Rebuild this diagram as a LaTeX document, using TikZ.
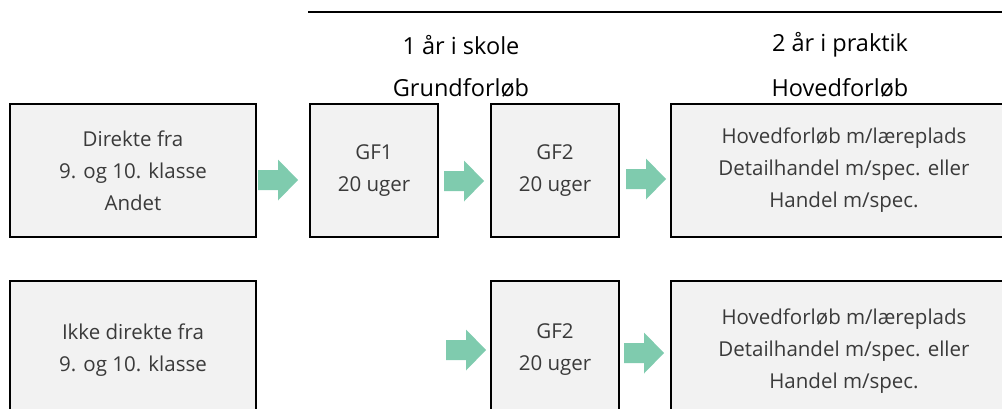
\documentclass[tikz,border=0pt]{standalone}
\usepackage{fontspec}
\setmainfont{Open Sans}
\usetikzlibrary{positioning}
\definecolor{pilgroen}{HTML}{7FCBAE}
\definecolor{boksgraa}{HTML}{F2F2F2}
\definecolor{tekstgraa}{HTML}{3A3A3A}
\tikzset{
  boks/.style={draw=black,line width=2pt,fill=boksgraa,anchor=north west,align=center,
    text=tekstgraa,font=\fontsize{20.5}{32}\selectfont,inner sep=0pt},
  overskrift/.style={font=\fontsize{23.5}{26}\selectfont,text=black,inner sep=0pt},
  pil/.pic={\fill[pilgroen] (0,-10) -- (20,-10) -- (20,-20.5) -- (40,0) -- (20,20.5) -- (20,10) -- (0,10) -- cycle;}
}

\begin{document}
\begin{tikzpicture}[x=1pt,y=-1pt]
    \useasboundingbox (0,0) rectangle (1002,408);
    \clip (0,0) rectangle (1002,408);

    \draw[line width=2pt] (308,12) -- (1002,12);

    \node[overskrift] (skole) at (461,45) {1 år i skole};
    \node[overskrift] (praktik) at (840,45) {2 år i praktik};
    \node[overskrift] (grund) at (461,88) {Grundforløb};
    \node[overskrift] (hoved) at (840,88) {Hovedforløb};

    % forste raekke
    \node[boks,minimum width=246pt,minimum height=133pt] (direkte) at (9,103) {Direkte fra\\9. og 10. klasse\\Andet};
    \node[boks,minimum width=128pt,minimum height=133pt] (gfen) at (309,103) {GF1\\20 uger};
    \node[boks,minimum width=128pt,minimum height=133pt] (gfto) at (490,103) {GF2\\20 uger};
    \node[boks,minimum width=346pt,minimum height=133pt] (hovedet) at (670,103) {Hovedforløb m/læreplads\\Detailhandel m/spec. eller\\Handel m/spec.};

    \pic at (258,180) {pil};
    \pic at (444,181) {pil};
    \pic at (626,179) {pil};

    % anden raekke
    \node[boks,minimum width=246pt,minimum height=138pt] (ikke) at (9,280) {Ikke direkte fra\\9. og 10. klasse};
    \node[boks,minimum width=128pt,minimum height=138pt] (gftoto) at (490,280) {GF2\\20 uger};
    \node[boks,minimum width=346pt,minimum height=140pt] (hovedto) at (670,280) {Hovedforløb m/læreplads\\Detailhandel m/spec. eller\\Handel m/spec.};

    \pic at (446,350) {pil};
    \pic at (624,353) {pil};

\end{tikzpicture}
\end{document}
